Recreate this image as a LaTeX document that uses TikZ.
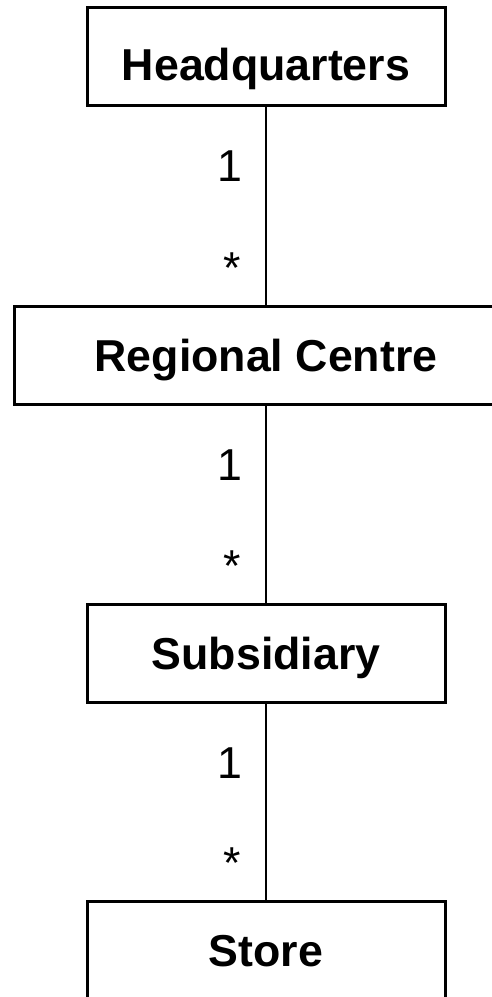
\documentclass[tikz,border=0pt]{standalone}
\usepackage{fontspec}
\setmainfont{Liberation Sans}
\begin{document}
\begin{tikzpicture}[x=1pt,y=-1pt,
  entity/.style={draw,line width=3pt,minimum width=358pt,minimum height=98pt,
    inner sep=0pt,font=\fontsize{44.7}{54}\selectfont\bfseries,
    text height=32pt,text depth=0pt},
  mult/.style={anchor=base,inner sep=0pt,font=\fontsize{44.7}{54}\selectfont}]
\useasboundingbox (0,0) rectangle (491,997);
% the four levels
\node[entity,text height=48pt] (hq) at (266,56.3) {Headquarters};
\node[entity,minimum width=503pt] (rc) at (266,355) {Regional Centre};
\node[entity] (sub) at (266,653) {Subsidiary};
\node[entity] (store) at (266,950) {Store};
% one-to-many links
\foreach \a/\b in {hq/rc,rc/sub,sub/store}
{
\draw[line width=2.6pt] (\a) -- (\b);
\node[mult] (\a-one) at ([xshift=-36pt,yshift=-75pt]\a.south) {1};
\node[mult] (\b-many) at ([xshift=-34pt,yshift=21pt]\b.north) {*};
}
\end{tikzpicture}
\end{document}
